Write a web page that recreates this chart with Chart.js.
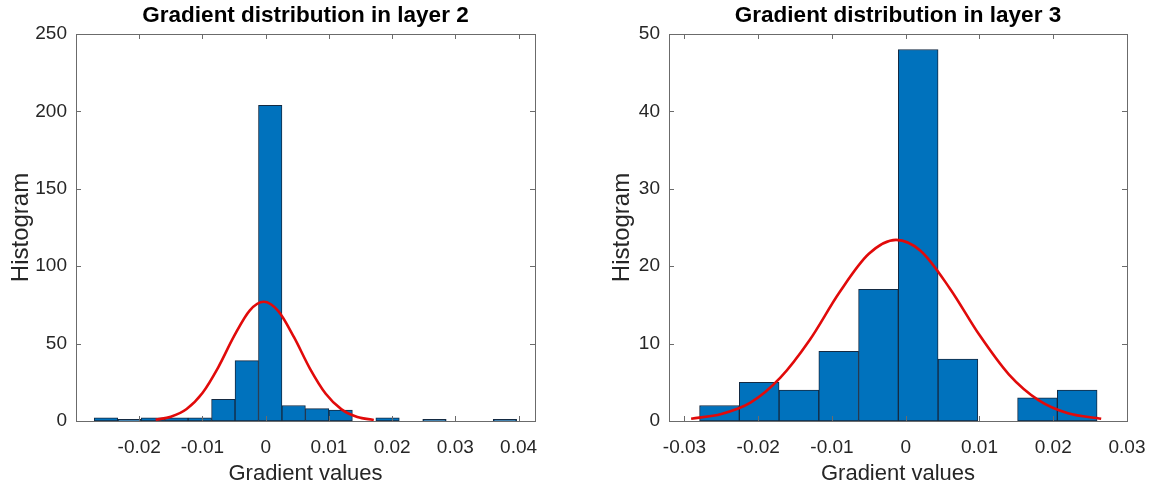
<!DOCTYPE html>
<html>
<head>
<meta charset="utf-8">
<script src="https://cdn.jsdelivr.net/npm/chart.js@4.4.1/dist/chart.umd.min.js"></script>
<style>
  html, body { margin: 0; padding: 0; background: #fff; }
  #wrap { position: relative; width: 1149px; height: 488px; }
  #c2 { position: absolute; left: 0; top: 0; }
  #c3 { position: absolute; left: 574px; top: 0; }
</style>
</head>
<body>
<div id="wrap">
  <canvas id="c2" width="574" height="488"></canvas>
  <canvas id="c3" width="575" height="488"></canvas>
</div>
<script>
// ---- layer 2 histogram (18 bins) ----
const binCenters2 = [-0.02526, -0.02155, -0.01784, -0.01413, -0.01041, -0.00670,
  -0.00299, 0.00072, 0.00443, 0.00814, 0.01186, 0.01557, 0.01928, 0.02299,
  0.02670, 0.03041, 0.03412, 0.03784];
const counts2 = [2, 1, 2, 2, 2, 14, 39, 204, 10, 8, 7, 0, 2, 0, 1, 0, 0, 1];
// fitted curve
const curveX2 = [-0.0174, -0.015, -0.0125, -0.010, -0.0075, -0.005, -0.0025, -0.0003,
  0.002, 0.0045, 0.007, 0.0095, 0.012, 0.0145, 0.0171];
const curveY2 = [0.8, 2.8, 7.8, 18.1, 34.7, 54.8, 71.5, 77, 71.0, 54.0, 33.9, 17.6, 7.5, 2.6, 0.7];
const xTicks2 = [-0.02, -0.01, 0, 0.01, 0.02, 0.03, 0.04];

// ---- layer 3 histogram (10 bins) ----
const binCenters3 = [-0.02526, -0.01987, -0.01448, -0.00909, -0.00370, 0.00169,
  0.00708, 0.01247, 0.01786, 0.02325];
const counts3 = [2, 5, 4, 9, 17, 48, 8, 0, 3, 4];
const curveX3 = [-0.0291, -0.025, -0.021, -0.017, -0.013, -0.009, -0.005, -0.0013,
  0.002, 0.006, 0.010, 0.014, 0.018, 0.022, 0.0265];
const curveY3 = [0.3, 0.9, 2.4, 5.6, 10.5, 16.6, 21.6, 23.4, 22.0, 17.1, 11.1, 6.0, 2.7, 1.0, 0.3];
const xTicks3 = [-0.03, -0.02, -0.01, 0, 0.01, 0.02, 0.03];

const FONT = "'Liberation Sans', Arial, sans-serif";
const TEXT = '#262626';

// MATLAB-style box with inward ticks on all four sides
const boxPlugin = {
  id: 'box',
  afterDraw(chart) {
    const { ctx, chartArea: a, scales } = chart;
    ctx.save();
    ctx.strokeStyle = '#6b6b6b';
    ctx.lineWidth = 1;
    ctx.strokeRect(a.left + 0.5, a.top + 0.5, a.right - a.left, a.bottom - a.top);
    ctx.beginPath();
    scales.x.ticks.forEach(t => {
      const px = Math.round(scales.x.getPixelForValue(t.value)) + 0.5;
      ctx.moveTo(px, a.bottom); ctx.lineTo(px, a.bottom - 5);
      ctx.moveTo(px, a.top); ctx.lineTo(px, a.top + 5);
    });
    scales.y.ticks.forEach(t => {
      const py = Math.round(scales.y.getPixelForValue(t.value)) + 0.5;
      ctx.moveTo(a.left, py); ctx.lineTo(a.left + 5, py);
      ctx.moveTo(a.right, py); ctx.lineTo(a.right - 5, py);
    });
    ctx.stroke();
    ctx.restore();
  }
};

function fmtTick(v) {
  if (Math.abs(v) < 1e-9) return '0';
  return v.toFixed(2);
}

function makeChart(id, o) {
  const bars = o.centers.map((x, i) => ({ x, y: o.counts[i] }));
  const curve = o.cx.map((x, i) => ({ x, y: o.cy[i] }));
  return new Chart(document.getElementById(id), {
    type: 'bar',
    data: {
      datasets: [
        {
          type: 'line',
          data: curve,
          borderColor: '#e10a0a',
          borderWidth: 2.6,
          pointRadius: 0,
          fill: false,
          cubicInterpolationMode: 'monotone',
          order: 0
        },
        {
          type: 'bar',
          data: bars,
          backgroundColor: '#0072bd',
          borderColor: '#142a42',
          borderWidth: 1,
          borderSkipped: false,
          barPercentage: 1,
          categoryPercentage: 1,
          order: 1
        }
      ]
    },
    options: {
      responsive: false,
      animation: false,
      layout: { padding: { left: 0, right: o.padRight, top: 0, bottom: 0 } },
      plugins: {
        legend: { display: false },
        tooltip: { enabled: false },
        title: {
          display: true,
          fullSize: false,
          text: o.title,
          color: '#000',
          font: { family: FONT, size: 22.5, weight: 'bold' },
          padding: { top: 2, bottom: 5 }
        }
      },
      scales: {
        x: {
          type: 'linear',
          offset: false,
          min: o.xmin,
          max: o.xmax,
          afterBuildTicks: s => { s.ticks = o.xTicks.map(v => ({ value: v })); },
          afterFit: s => { s.height = 67; },
          // tick marks themselves are drawn by boxPlugin; tickLength only spaces the labels
          grid: { display: false, drawTicks: true, tickLength: 15 },
          border: { display: false },
          ticks: {
            color: TEXT,
            font: { family: FONT, size: 19 },
            padding: 0,
            maxRotation: 0,
            autoSkip: false,
            callback: v => fmtTick(v)
          },
          title: {
            display: true,
            text: 'Gradient values',
            color: TEXT,
            font: { family: FONT, size: 22 },
            padding: { top: 0, bottom: 1 }
          }
        },
        y: {
          min: 0,
          max: o.ymax,
          afterFit: s => { s.width = o.yWidth; },
          grid: { display: false, drawTicks: false },
          border: { display: false },
          ticks: {
            stepSize: o.ystep,
            color: TEXT,
            font: { family: FONT, size: 19 },
            padding: o.tickPad
          },
          title: {
            display: true,
            text: 'Histogram',
            color: TEXT,
            font: { family: FONT, size: 24 },
            padding: o.titlePad
          }
        }
      }
    },
    plugins: [boxPlugin]
  });
}

makeChart('c2', {
  title: 'Gradient distribution in layer 2',
  centers: binCenters2, counts: counts2, cx: curveX2, cy: curveY2, xTicks: xTicks2,
  xmin: -0.03, xmax: 0.0426, ymax: 250, ystep: 50,
  yWidth: 76, tickPad: 9, titlePad: 7, padRight: 39
});

makeChart('c3', {
  title: 'Gradient distribution in layer 3',
  centers: binCenters3, counts: counts3, cx: curveX3, cy: curveY3, xTicks: xTicks3,
  xmin: -0.0321, xmax: 0.03, ymax: 50, ystep: 10,
  yWidth: 95, tickPad: 9, titlePad: 34, padRight: 22
});
</script>
</body>
</html>
